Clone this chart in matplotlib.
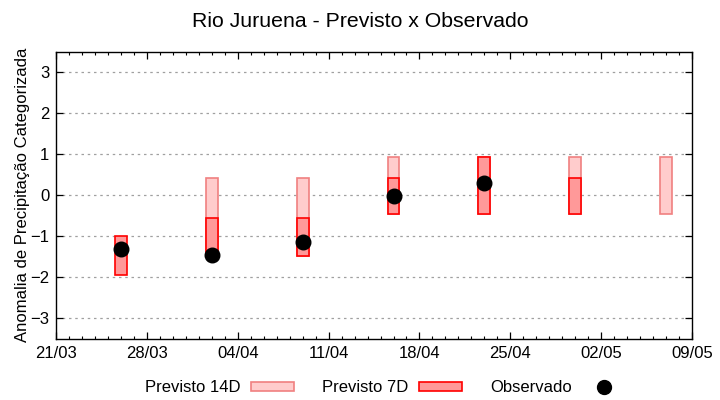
import numpy as np
import matplotlib
matplotlib.use("Agg")
import matplotlib.pyplot as plt
import matplotlib.dates as mdates
from matplotlib.patches import Patch
from matplotlib.lines import Line2D
import datetime

plt.rcParams['font.family'] = ['Liberation Sans', 'DejaVu Sans']

# datas das previsoes (centro das barras)
datas = ['2024-03-26', '2024-04-02', '2024-04-09', '2024-04-16',
         '2024-04-23', '2024-04-30', '2024-05-07']
# previsto 14 dias (min / max), nan = sem previsao
p14_min = [np.nan, -1.45, -1.48, -0.47, -0.47, -0.47, -0.47]
p14_max = [np.nan, 0.41, 0.41, 0.93, 0.93, 0.93, 0.93]
# previsto 7 dias
p7_min = [-1.95, -1.45, -1.48, -0.47, -0.47, -0.47, np.nan]
p7_max = [-1.0, -0.55, -0.55, 0.41, 0.93, 0.41, np.nan]
# observado
obs = [-1.3, -1.45, -1.13, -0.02, 0.3, np.nan, np.nan]

inicio = datetime.datetime(2024, 3, 21)
fim = datetime.datetime(2024, 5, 9)

x = mdates.date2num([datetime.datetime.strptime(d, '%Y-%m-%d') for d in datas])
p14_min = np.array(p14_min); p14_max = np.array(p14_max)
p7_min = np.array(p7_min); p7_max = np.array(p7_max)

fig = plt.figure(figsize=(7.2, 4.0), dpi=100)
ax = fig.add_axes([0.078, 0.153, 0.883, 0.718])

c14_face, c14_edge = '#ffcccc', '#f08080'
c7_face, c7_edge = '#ff9999', '#ff0000'

ax.bar(x, p14_max - p14_min, bottom=p14_min, width=0.92,
       color=c14_face, edgecolor=c14_edge, linewidth=1.2, zorder=2)
ax.bar(x, p7_max - p7_min, bottom=p7_min, width=0.92,
       color=c7_face, edgecolor=c7_edge, linewidth=1.2, zorder=3)
ax.scatter(x, obs, s=110, color='black', zorder=4)

x0, x1 = mdates.date2num(inicio), mdates.date2num(fim)
ax.set_xlim(x0, x1)
ax.set_ylim(-3.5, 3.5)
ax.set_yticks([-3, -2, -1, 0, 1, 2, 3])
ax.set_xticks(np.arange(x0, x1 + 1, 7))
ax.set_xticks(np.arange(x0, x1 + 1, 1), minor=True)
ax.xaxis.set_major_formatter(mdates.DateFormatter('%d/%m'))
ax.tick_params(which='both', direction='in', top=True, right=True,
               labelsize=12, pad=5)
ax.tick_params(which='major', length=5, width=0.9)
ax.tick_params(which='minor', length=2.5, width=0.8)
ax.tick_params(axis='y', which='minor', left=False, right=False)
ax.grid(axis='y', color='#a0a0a0', linestyle=(0, (2, 3)), linewidth=0.9, zorder=0)
ax.set_axisbelow(True)
for s in ax.spines.values():
    s.set_linewidth(1.0)

ax.set_ylabel('Anomalia de Precipitação Categorizada', fontsize=12, labelpad=0)
fig.suptitle('Rio Juruena - Previsto x Observado', fontsize=15.3, y=0.97)

handles = [Patch(facecolor=c14_face, edgecolor=c14_edge, linewidth=1.2),
           Patch(facecolor=c7_face, edgecolor=c7_edge, linewidth=1.2),
           Line2D([], [], marker='o', color='black', linestyle='none', markersize=10)]
labels = ['Previsto 14D', 'Previsto 7D', 'Observado']
fig.legend(handles, labels, loc='center', bbox_to_anchor=(0.535, 0.03), ncol=3,
           frameon=False, markerfirst=False, fontsize=12, handlelength=2.6,
           handleheight=0.5, columnspacing=1.7, handletextpad=0.6)

fig.savefig('out.png', dpi=100)
